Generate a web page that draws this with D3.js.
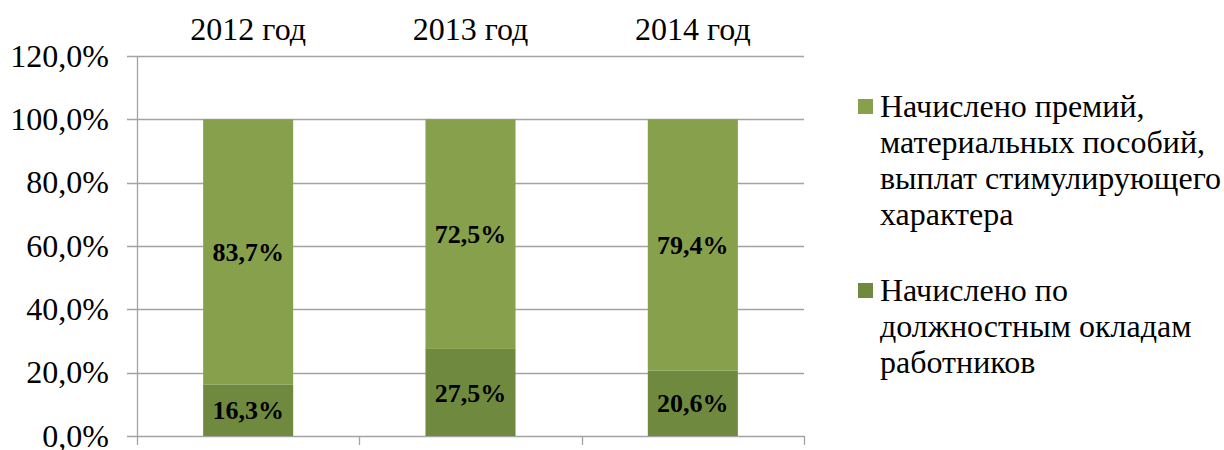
<!DOCTYPE html>
<html>
<head>
<meta charset="utf-8">
<script src="https://cdn.jsdelivr.net/npm/d3@7"></script>
<style>
  body { margin: 0; background: #fff; }
</style>
</head>
<body>
<svg id="chart" width="1224" height="450"></svg>
<script>
const years = ["2012 год", "2013 год", "2014 год"];
const salary = [16.3, 27.5, 20.6];
const bonus = [83.7, 72.5, 79.4];
const yTicks = [0, 20, 40, 60, 80, 100, 120];
const legendBonus = ["Начислено премий,", "материальных пособий,", "выплат стимулирующего", "характера"];
const legendSalary = ["Начислено по", "должностным окладам", "работников"];

const colBonus = "#87a04b";
const colSalary = "#6f8a3f";
const gridCol = "#a3a3a3";
const serif = "'Times New Roman', 'Liberation Serif', Tinos, 'DejaVu Serif', serif";

const svg = d3.select("#chart")
              .attr("font-family", serif);
const plotLeft = 137, plotRight = 804, plotTop = 56, plotBottom = 436;

const x = d3.scaleBand()
            .domain(years)
            .range([plotLeft, plotRight])
            .paddingInner(0.595)
            .paddingOuter(0.2975);

const y = d3.scaleLinear()
            .domain([0, 120])
            .range([plotBottom, plotTop]);

const fmt = v => d3.format(".1f")(v).replace(".", ",") + "%";

// gridlines + y tick marks
svg.append("g")
   .selectAll("line")
   .data(yTicks)
   .enter()
   .append("line")
   .attr("x1", plotLeft - 10)
   .attr("x2", plotRight)
   .attr("y1", d => Math.round(y(d)) + 0.5)
   .attr("y2", d => Math.round(y(d)) + 0.5)
   .attr("stroke", gridCol)
   .attr("stroke-width", 1.3);

// y axis line
svg.append("line")
   .attr("x1", plotLeft + 0.5).attr("x2", plotLeft + 0.5)
   .attr("y1", plotTop).attr("y2", plotBottom + 9)
   .attr("stroke", gridCol).attr("stroke-width", 1.3);

// category boundary ticks
const step = x.step();
svg.append("g")
   .selectAll("line")
   .data(d3.range(1, years.length + 1))
   .enter()
   .append("line")
   .attr("x1", i => Math.round(plotLeft + i * step) + 0.5)
   .attr("x2", i => Math.round(plotLeft + i * step) + 0.5)
   .attr("y1", plotBottom)
   .attr("y2", plotBottom + 9)
   .attr("stroke", gridCol)
   .attr("stroke-width", 1.3);

// y tick labels
svg.append("g")
   .selectAll("text")
   .data(yTicks)
   .enter()
   .append("text")
   .attr("x", 109)
   .attr("y", d => y(d))
   .attr("dy", "0.33em")
   .attr("text-anchor", "end")
   .style("font-size", "32px")
   .text(d => fmt(d));

// category labels on top
svg.append("g")
   .selectAll("text")
   .data(years)
   .enter()
   .append("text")
   .attr("x", d => x(d) + x.bandwidth() / 2)
   .attr("y", 40)
   .attr("text-anchor", "middle")
   .style("font-size", "32px")
   .text(d => d);

// bars
const bars = svg.append("g");
bars.selectAll(".salary")
    .data(years)
    .enter()
    .append("rect")
    .attr("class", "salary")
    .attr("x", d => x(d))
    .attr("width", x.bandwidth())
    .attr("y", (d, i) => y(salary[i]))
    .attr("height", (d, i) => y(0) - y(salary[i]))
    .attr("fill", colSalary);

bars.selectAll(".bonus")
    .data(years)
    .enter()
    .append("rect")
    .attr("class", "bonus")
    .attr("x", d => x(d))
    .attr("width", x.bandwidth())
    .attr("y", (d, i) => y(salary[i] + bonus[i]))
    .attr("height", (d, i) => y(salary[i]) - y(salary[i] + bonus[i]))
    .attr("fill", colBonus);

// data labels
const labels = svg.append("g")
                  .style("font-size", "26px")
                  .style("font-weight", "bold");
years.forEach((d, i) => {
  labels.append("text")
        .attr("x", x(d) + x.bandwidth() / 2)
        .attr("y", y(salary[i] / 2))
        .attr("dy", "0.35em")
        .attr("text-anchor", "middle")
        .text(fmt(salary[i]));
  labels.append("text")
        .attr("x", x(d) + x.bandwidth() / 2)
        .attr("y", y(salary[i] + bonus[i] / 2))
        .attr("dy", "0.35em")
        .attr("text-anchor", "middle")
        .text(fmt(bonus[i]));
});

// legend
const legend = [
  {lines: legendBonus, color: colBonus, y0: 99},
  {lines: legendSalary, color: colSalary, y0: 283}
];
legend.forEach(item => {
  const g = svg.append("g");
  g.append("rect")
   .attr("x", 858).attr("y", item.y0)
   .attr("width", 15).attr("height", 15)
   .attr("fill", item.color);
  g.selectAll("text")
   .data(item.lines)
   .enter()
   .append("text")
   .attr("x", 880)
   .attr("y", (l, j) => item.y0 + 18 + j * 36)
   .style("font-size", "32px")
   .text(l => l);
});
</script>
</body>
</html>
